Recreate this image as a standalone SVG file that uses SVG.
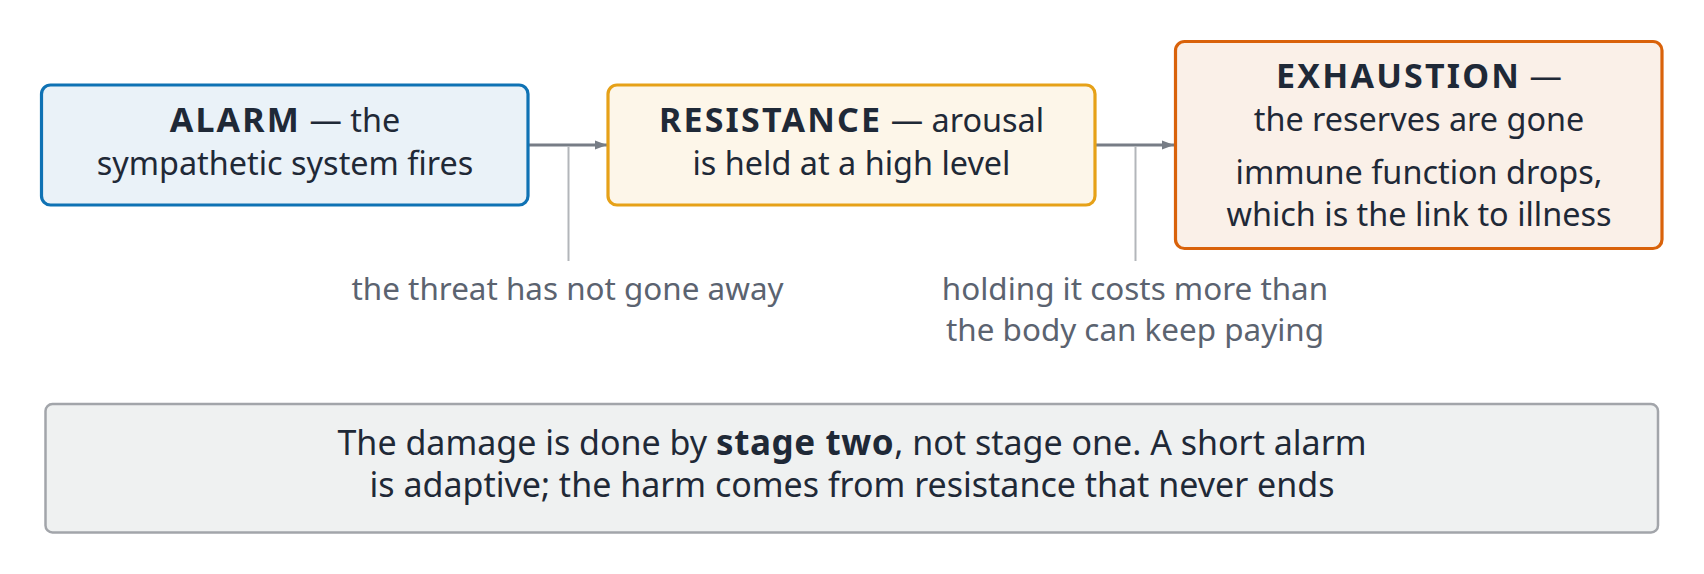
<svg xmlns="http://www.w3.org/2000/svg" width="1704" height="574" viewBox="0 0 1704 574">
  <defs>
    <style>
      .box { stroke-width: 3.2; }
      .t { font-family: "Noto Sans", "Open Sans", sans-serif; font-size: 32.4px; fill: #1f2937; text-anchor: middle; }
      .b { font-weight: bold; font-size: 34px; letter-spacing: 2.2px; }
      .sum { font-size: 34px; }
      .sum .b { font-size: 35px; letter-spacing: 0.6px; }
      .lbl { font-family: "Noto Sans", "Open Sans", sans-serif; font-size: 31.4px; fill: #5b6370; text-anchor: middle; }
      .conn { stroke: #777d86; stroke-width: 3; fill: none; }
      .lead { stroke: #b3b6ba; stroke-width: 2; fill: none; }
    </style>
    <marker id="arr" viewBox="0 0 12 10" refX="12" refY="5" markerWidth="12" markerHeight="10" markerUnits="userSpaceOnUse" orient="auto">
      <path d="M0,0.5 L12,5 L0,9.5 Z" fill="#777d86"/>
    </marker>
  </defs>
  <rect width="1704" height="574" fill="#ffffff"/>

  <g id="connectors">
    <line class="conn" x1="529" y1="145" x2="607" y2="145" marker-end="url(#arr)"/>
    <line class="conn" x1="1096" y1="145" x2="1174" y2="145" marker-end="url(#arr)"/>
    <line class="lead" x1="568.5" y1="146.5" x2="568.5" y2="261"/>
    <line class="lead" x1="1135.5" y1="146.5" x2="1135.5" y2="261"/>
  </g>

  <g id="alarm">
    <rect class="box" x="41.5" y="85" width="486.5" height="120" rx="9" fill="#eaf2f8" stroke="#0f72b4"/>
    <text class="t" x="285" y="132"><tspan class="b">ALARM</tspan> — the</text>
    <text class="t" x="285" y="175">sympathetic system fires</text>
  </g>

  <g id="resistance">
    <rect class="box" x="608" y="85" width="487" height="120" rx="9" fill="#fdf6e9" stroke="#e6a118"/>
    <text class="t" x="851.5" y="132"><tspan class="b">RESISTANCE</tspan> — arousal</text>
    <text class="t" x="851.5" y="175">is held at a high level</text>
  </g>

  <g id="exhaustion">
    <rect class="box" x="1175.5" y="41.5" width="486.5" height="207" rx="9" fill="#faf0e8" stroke="#d9620a"/>
    <text class="t" x="1419" y="88"><tspan class="b">EXHAUSTION</tspan> —</text>
    <text class="t" x="1419" y="131">the reserves are gone</text>
    <text class="t" x="1419" y="184">immune function drops,</text>
    <text class="t" x="1419" y="226">which is the link to illness</text>
  </g>

  <g id="label-threat">
    <text class="lbl" x="567.5" y="300">the threat has not gone away</text>
  </g>

  <g id="label-cost">
    <text class="lbl" x="1135" y="300">holding it costs more than</text>
    <text class="lbl" x="1135" y="341">the body can keep paying</text>
  </g>

  <g id="summary">
    <rect x="45.5" y="404" width="1612.5" height="128.5" rx="7" fill="#eff1f1" stroke="#a2a5aa" stroke-width="2.5"/>
    <text class="t sum" x="852" y="455">The damage is done by <tspan class="b">stage two</tspan>, not stage one. A short alarm</text>
    <text class="t sum" x="852" y="497">is adaptive; the harm comes from resistance that never ends</text>
  </g>
</svg>
